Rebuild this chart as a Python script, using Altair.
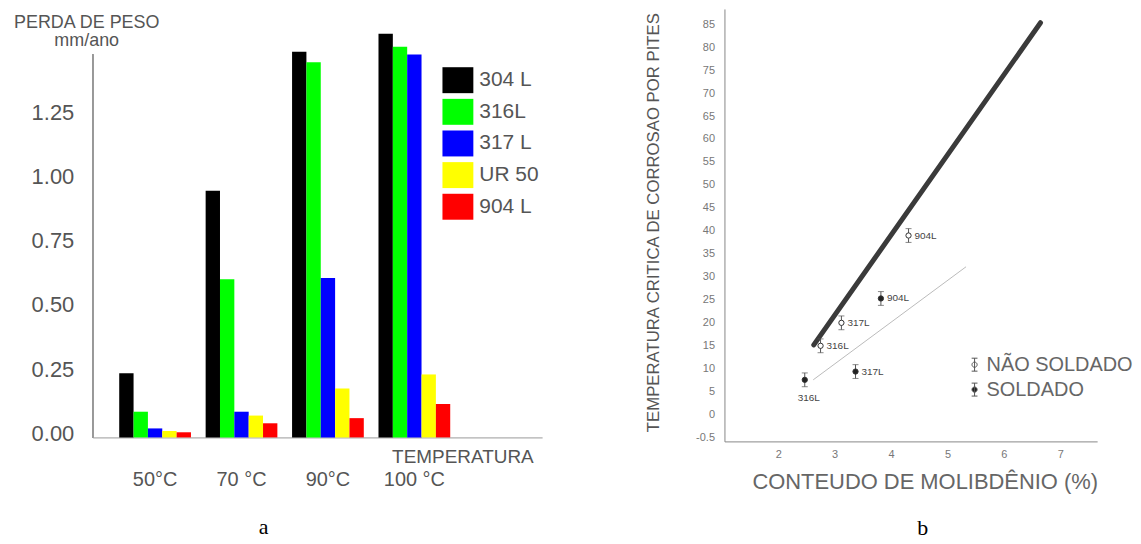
import altair as alt
import pandas as pd

# ---------------- Painel a : perda de peso (mm/ano) ----------------
temperaturas = ["50°C", "70 °C", "90°C", "100 °C"]
ligas = ["304 L", "316L", "317 L", "UR 50", "904 L"]
cores = ["#000000", "#00ff00", "#0000ff", "#ffff00", "#ff0000"]
perda_304L = [0.25, 0.96, 1.50, 1.57]
perda_316L = [0.10, 0.615, 1.46, 1.52]
perda_317L = [0.035, 0.10, 0.62, 1.49]
perda_UR50 = [0.025, 0.085, 0.19, 0.245]
perda_904L = [0.02, 0.055, 0.075, 0.13]
ticks_a = [0.0, 0.25, 0.50, 0.75, 1.00, 1.25]

# ---------------- Painel b : temperatura crítica de pites ----------------
series_b = ["NÃO SOLDADO", "SOLDADO"]
ligas_b = ["316L", "317L", "904L"]
mo_nao_soldado = [2.75, 3.12, 4.31]
tcp_nao_soldado = [15.0, 20.0, 39.0]
mo_soldado = [2.47, 3.37, 3.82]
tcp_soldado = [7.6, 9.4, 25.3]
erro_nao_soldado = [1.5, 1.5, 1.5]
erro_soldado = [1.5, 1.5, 1.5]
reta_nao_soldado_mo = [2.63, 6.65]
reta_nao_soldado_tcp = [15.2, 85.3]
reta_soldado_mo = [2.62, 5.33]
reta_soldado_tcp = [7.6, 32.2]
ticks_x_b = [2, 3, 4, 5, 6, 7]
ticks_y_b = [-5, 0, 5, 10, 15, 20, 25, 30, 35, 40, 45, 50, 55, 60, 65, 70, 75, 80, 85]

FONT = "Liberation Sans"
GRAY = "#555555"

# ---------- tables ----------
valores = [perda_304L, perda_316L, perda_317L, perda_UR50, perda_904L]
rows_a = []
for liga, vals in zip(ligas, valores):
    for t, v in zip(temperaturas, vals):
        rows_a.append({"temperatura": t, "liga": liga, "perda": v})
df_a = pd.DataFrame(rows_a)

rows_b = []
for serie, mos, tcps, errs in [("NÃO SOLDADO", mo_nao_soldado, tcp_nao_soldado, erro_nao_soldado),
                               ("SOLDADO", mo_soldado, tcp_soldado, erro_soldado)]:
    for liga, m, t, e in zip(ligas_b, mos, tcps, errs):
        rows_b.append({"serie": serie, "liga": liga, "mo": m, "tcp": t, "lo": t - e, "hi": t + e})
df_b = pd.DataFrame(rows_b)

df_reta_ns = pd.DataFrame({"mo0": [reta_nao_soldado_mo[0]], "mo1": [reta_nao_soldado_mo[1]],
                           "t0": [reta_nao_soldado_tcp[0]], "t1": [reta_nao_soldado_tcp[1]]})
df_reta_s = pd.DataFrame({"mo0": [reta_soldado_mo[0]], "mo1": [reta_soldado_mo[1]],
                          "t0": [reta_soldado_tcp[0]], "t1": [reta_soldado_tcp[1]]})

# ---------- Panel a ----------
bars = alt.Chart(df_a).mark_bar().encode(
    x=alt.X("temperatura:N", sort=temperaturas,
            scale=alt.Scale(paddingInner=0.17, paddingOuter=0.685, align=0.224),
            axis=alt.Axis(title="TEMPERATURA", labelAngle=0, ticks=False, labelPadding=32,
                          labelFontSize=20, labelColor=GRAY, labelFont=FONT,
                          domainColor="#999999", titleX=371, titleY=19, titleAlign="center",
                          titleBaseline="middle", titleFont=FONT, titleFontSize=19,
                          titleColor=GRAY, titleFontWeight="normal")),
    xOffset=alt.XOffset("liga:N", sort=ligas, scale=alt.Scale(paddingInner=0, paddingOuter=0)),
    y=alt.Y("perda:Q", scale=alt.Scale(domain=[0, 1.667], nice=False),
            axis=alt.Axis(values=ticks_a, format=".2f", ticks=False, domain=False, grid=False,
                          labelFontSize=22, labelFont=FONT, labelColor=GRAY, labelPadding=19,
                          labelOffset=-4, title=["PERDA DE PESO", "mm/ano"], titleAngle=0,
                          titleX=-6.5, titleY=14, titleAlign="center", titleBaseline="middle",
                          titleLineHeight=18, titleFontSize=18, titleFont=FONT,
                          titleColor=GRAY, titleFontWeight="normal")),
    color=alt.Color("liga:N", sort=ligas, scale=alt.Scale(domain=ligas, range=cores),
                    legend=alt.Legend(title=None, orient="none", legendX=351, legendY=56,
                                      symbolType="M-1,-0.84L1,-0.84L1,0.84L-1,0.84Z",
                                      symbolSize=961, symbolStrokeWidth=0, symbolOpacity=1,
                                      labelFont=FONT, labelFontSize=21, labelColor=GRAY,
                                      labelOffset=6, rowPadding=2.75, padding=0)),
)

eixo_y = alt.Chart(df_a).mark_rule(color="#999999", strokeWidth=1).encode(
    x=alt.value(0), y=alt.datum(0), y2=alt.datum(1.49)
)

painel_a = alt.layer(bars, eixo_y).properties(
    width=451, height=430,
    title=alt.TitleParams("a", orient="bottom", anchor="middle", frame="group",
                          font="Liberation Serif", fontSize=22, fontWeight="normal",
                          color="black", offset=28, dx=-54),
)

# ---------- Panel b ----------
xs = alt.Scale(domain=[1.046, 7.654], nice=False, zero=False)
ys = alt.Scale(domain=[-5.8, 88.3], nice=False, zero=False)

x_axis = alt.Axis(values=ticks_x_b, format="d", ticks=False, grid=False, labelFontSize=11,
                  labelFont=FONT, labelColor="#777777", labelPadding=7, domainColor="#888888",
                  labelOverlap=False, tickCount=30,
                  title="CONTEUDO DE MOLIBDÊNIO (%)", titleFont=FONT, titleFontSize=22,
                  titleFontWeight="normal", titleColor="#666666", titleX=201, titleY=40,
                  titleAlign="center", titleBaseline="middle")
y_axis = alt.Axis(values=ticks_y_b, format="d", ticks=False, grid=False, labelFontSize=11,
                  labelFont=FONT, labelColor="#777777", labelPadding=10, domainColor="#888888",
                  labelOverlap=False, tickCount=40,
                  labelExpr="datum.value == -5 ? '-0.5' : datum.label",
                  title="TEMPERATURA CRITICA DE CORROSAO POR PITES", titleFont=FONT,
                  titleFontSize=16.8, titleFontWeight="normal", titleColor="#555555",
                  titleAngle=270, titleX=-71, titleY=214, titleAlign="center",
                  titleBaseline="middle")

reta_ns = alt.Chart(df_reta_ns).mark_rule(color="#3a3a3a", strokeWidth=5, strokeCap="round").encode(
    x=alt.X("mo0:Q", scale=xs, axis=x_axis), y=alt.Y("t0:Q", scale=ys, axis=y_axis),
    x2="mo1:Q", y2="t1:Q")
reta_s = alt.Chart(df_reta_s).mark_rule(color="#bbbbbb", strokeWidth=1).encode(
    x=alt.X("mo0:Q", scale=xs), y=alt.Y("t0:Q", scale=ys), x2="mo1:Q", y2="t1:Q")

barra = alt.Chart(df_b).mark_rule(color="#555555", strokeWidth=1).encode(
    x=alt.X("mo:Q", scale=xs), y=alt.Y("lo:Q", scale=ys), y2="hi:Q")
cap_lo = alt.Chart(df_b).mark_tick(orient="horizontal", size=6, thickness=1, color="#555555").encode(
    x=alt.X("mo:Q", scale=xs), y=alt.Y("lo:Q", scale=ys))
cap_hi = alt.Chart(df_b).mark_tick(orient="horizontal", size=6, thickness=1, color="#555555").encode(
    x=alt.X("mo:Q", scale=xs), y=alt.Y("hi:Q", scale=ys))

legend_path = ("M0,-1L0,1M-0.45,-1L0.45,-1M-0.45,1L0.45,1"
               "M0.4,0A0.4,0.4,0,1,1,-0.4,0A0.4,0.4,0,1,1,0.4,0Z")
pontos = alt.Chart(df_b).mark_point(filled=True, size=28, stroke="#333333", strokeWidth=1,
                                    opacity=1, shape="circle").encode(
    x=alt.X("mo:Q", scale=xs), y=alt.Y("tcp:Q", scale=ys),
    fill=alt.Fill("serie:N", scale=alt.Scale(domain=series_b, range=["#ffffff", "#222222"]),
                  legend=alt.Legend(title=None, orient="none", legendX=241, legendY=347,
                                    symbolType=legend_path, symbolSize=169,
                                    symbolStrokeColor="#555555", symbolStrokeWidth=1,
                                    labelFont=FONT, labelFontSize=20, labelColor="#666666",
                                    labelOffset=2, rowPadding=5, padding=0)),
)

rotulo_dir = alt.Chart(df_b).transform_filter(
    "!(datum.serie == 'SOLDADO' && datum.liga == '316L')"
).mark_text(align="left", baseline="middle", dx=6, fontSize=10, font=FONT, color="#444444").encode(
    x=alt.X("mo:Q", scale=xs), y=alt.Y("tcp:Q", scale=ys), text="liga:N")
rotulo_baixo = alt.Chart(df_b).transform_filter(
    "datum.serie == 'SOLDADO' && datum.liga == '316L'"
).mark_text(align="center", baseline="middle", dy=18, dx=4, fontSize=10, font=FONT,
            color="#444444").encode(
    x=alt.X("mo:Q", scale=xs), y=alt.Y("tcp:Q", scale=ys), text="liga:N")

painel_b = alt.layer(reta_ns, reta_s, barra, cap_lo, cap_hi, pontos, rotulo_dir, rotulo_baixo).properties(
    width=374, height=434,
    title=alt.TitleParams("b", orient="bottom", anchor="middle", frame="group",
                          font="Liberation Serif", fontSize=22, fontWeight="normal",
                          color="black", offset=26, dx=12),
)

chart = alt.hconcat(painel_a, painel_b, spacing=183, bounds="flush").resolve_scale(
    color="independent", fill="independent"
).resolve_legend(color="independent", fill="independent").properties(
    padding={"left": 4, "top": 0, "right": 0, "bottom": 0}
).configure_view(strokeWidth=0)

chart.save("out.html", embed_options={"renderer": "svg", "actions": False})
